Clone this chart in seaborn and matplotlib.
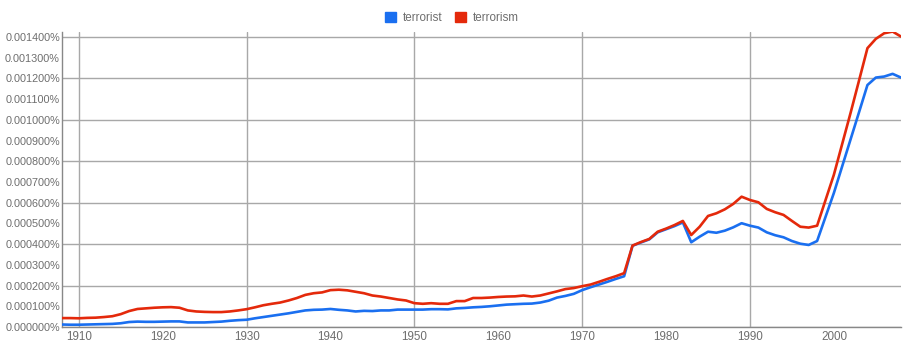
import numpy as np
import pandas as pd
import seaborn as sns
import matplotlib
matplotlib.use("Agg")
import matplotlib.pyplot as plt
from matplotlib.patches import Patch
from matplotlib.ticker import FuncFormatter

# ---- data (values in units of 1e-6 percent) ----
UNIT = 1e-6
years = list(range(1908, 2009))
terrorist = [12, 11, 11, 12, 13, 14, 15, 18, 24, 26,
             25, 25, 26, 27, 27, 22, 22, 22, 24, 26,
             30, 33, 35, 42, 48, 54, 60, 66, 73, 80,
             83, 84, 87, 83, 80, 75, 78, 77, 80, 80,
             84, 84, 84, 84, 86, 86, 85, 90, 92, 95,
             97, 100, 104, 108, 110, 112, 113, 118, 127, 142,
             150, 160, 178, 192, 205, 218, 232, 245, 392, 408,
             423, 457, 472, 487, 505, 409, 436, 460, 455, 465,
             481, 501, 489, 480, 457, 443, 433, 415, 402, 396,
             415, 531, 647, 777, 907, 1037, 1168, 1204, 1209, 1222,
             1204]
terrorism = [43, 43, 42, 44, 45, 48, 52, 62, 77, 87,
             90, 93, 95, 96, 93, 80, 75, 73, 72, 72,
             75, 80, 86, 95, 105, 112, 118, 128, 140, 155,
             163, 167, 178, 180, 177, 170, 163, 152, 147, 140,
             133, 128, 115, 112, 115, 112, 112, 125, 125, 140,
             140, 142, 145, 147, 148, 152, 147, 152, 162, 172,
             183, 188, 197, 205, 218, 232, 245, 260, 393, 410,
             425, 460, 475, 492, 512, 444, 484, 536, 549, 568,
             594, 629, 613, 602, 570, 554, 541, 512, 484, 480,
             489, 612, 735, 885, 1035, 1190, 1346, 1391, 1418, 1426,
             1402]
series_names = ["terrorist", "terrorism"]
colors = ["#1a6ff0", "#e4290b"]
x_tick_labels = list(range(1910, 2001, 10))
y_tick_values = [i * 100 for i in range(15)]

df = pd.concat([
    pd.DataFrame({"year": years, "value": np.array(terrorist) * UNIT, "term": "terrorist"}),
    pd.DataFrame({"year": years, "value": np.array(terrorism) * UNIT, "term": "terrorism"}),
])

sns.set_theme(style="white")
plt.rcParams["font.family"] = ["Liberation Sans", "DejaVu Sans"]

fig = plt.figure(figsize=(9.08, 3.51), dpi=100)
ax = fig.add_axes([62 / 908, (351 - 327) / 351, (901 - 62) / 908, (327 - 32) / 351])

grid_col = "#a8a8a8"
text_col = "#6e6e6e"

sns.lineplot(data=df, x="year", y="value", hue="term", hue_order=series_names,
             palette=colors, linewidth=1.9, ax=ax, legend=False, zorder=3)

ax.set_xlim(1908, 2008)
ax.set_ylim(0, 0.001424)

# gridlines
for yv in np.array(y_tick_values[::2]) * UNIT:
    ax.axhline(yv, color=grid_col, lw=1.0, zorder=1)
for xv in range(1910, 2001, 20):
    ax.axvline(xv, color=grid_col, lw=1.0, zorder=1)

ax.set_xticks(x_tick_labels)
ax.set_xticklabels([str(v) for v in x_tick_labels])
ax.set_yticks(np.array(y_tick_values) * UNIT)
ax.yaxis.set_major_formatter(FuncFormatter(lambda v, p: f"{v:.6f}%"))

ax.tick_params(axis="x", labelsize=8.4, colors=text_col, length=0, pad=3)
ax.tick_params(axis="y", labelsize=7.85, colors=text_col, length=0, pad=1.5)

for side in ["top", "right"]:
    ax.spines[side].set_visible(False)
ax.spines["left"].set_color("#888888")
ax.spines["bottom"].set_color("#888888")
ax.spines["left"].set_linewidth(1.0)
ax.spines["bottom"].set_linewidth(1.0)

ax.set_xlabel("")
ax.set_ylabel("")

handles = [Patch(facecolor=c, edgecolor=c, label=n) for c, n in zip(colors, series_names)]
fig.legend(handles=handles, loc="center", bbox_to_anchor=(452 / 908, 1 - 18 / 351),
           ncol=2, frameon=False, fontsize=8.4, handlelength=0.95, handleheight=0.95,
           handletextpad=0.55, columnspacing=1.1, labelcolor=text_col)

fig.savefig("out.png", dpi=100)
